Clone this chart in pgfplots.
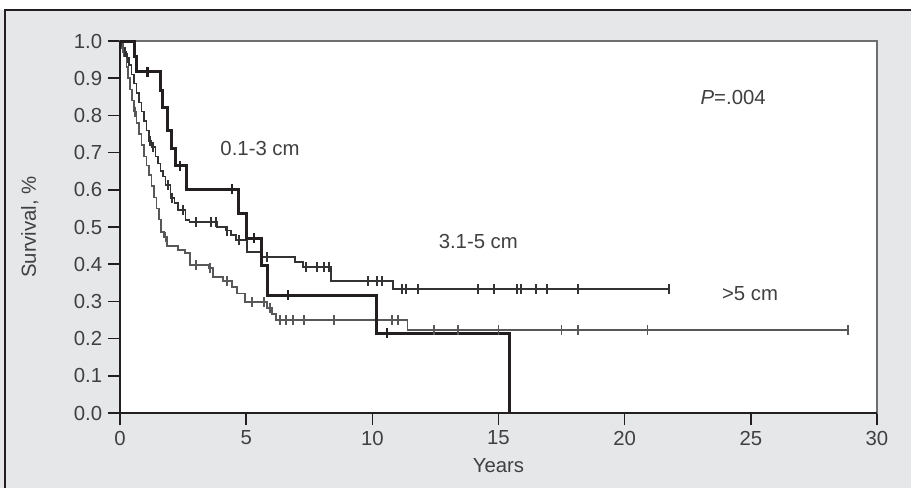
\documentclass[border=0pt]{standalone}
\usepackage{fontspec}
\setmainfont{Liberation Sans}
\usepackage{pgfplots}
\pgfplotsset{compat=1.18}
\definecolor{bg}{HTML}{E6E7E8}
\definecolor{ink}{HTML}{231F20}
\definecolor{txt}{HTML}{404042}
\definecolor{midc}{HTML}{333335}
\definecolor{grayc}{HTML}{58585A}
\definecolor{boxc}{HTML}{6D6E70}
\newcommand{\ff}{\fontsize{12.2pt}{14pt}\selectfont}
\begin{document}
\begin{tikzpicture}
\useasboundingbox (0,0) rectangle (546.6pt,292.8pt);
\fill[bg] (0,0) rectangle (546.6pt,286.8pt);
\draw[ink, line width=0.9pt] (3pt,0) -- (3pt,286.8pt) -- (546.6pt,286.8pt);
\begin{axis}[
  at={(72pt,45pt)}, anchor=south west,
  scale only axis, width=454.2pt, height=223.2pt,
  xmin=0, xmax=30, ymin=0, ymax=1,
  clip=false,
  axis background/.style={fill=white},
  axis line style={draw=boxc, line width=0.9pt},
  tick pos=left, tick align=outside, major tick length=7.2pt,
  every tick/.style={ink, line width=0.9pt},
  xtick={0,5,10,15,20,25,30},
  ytick={0,0.1,0.2,0.3,0.4,0.5,0.6,0.7,0.8,0.9,1.0},
  yticklabel style={/pgf/number format/.cd, fixed, fixed zerofill, precision=1},
  /pgf/number format/assume math mode=true,
  tick label style={font=\ff, text=txt},
  label style={font=\ff, text=txt},
  xlabel={Years}, ylabel={Survival, \%},
  xlabel style={at={(axis description cs:0.5,-0.142)}, anchor=center},
  ylabel style={at={(axis description cs:-0.119,0.5)}, anchor=center},
]
% >5 cm (gray)
\addplot[const plot, grayc, line width=0.85pt] coordinates {
(0,1)(0.08,0.98)(0.15,0.96)(0.25,0.93)(0.32,0.9)(0.4,0.87)(0.47,0.84)(0.55,0.81)(0.65,0.78)(0.75,0.75)(0.85,0.72)(0.95,0.69)(1.05,0.665)(1.15,0.64)(1.25,0.61)(1.35,0.58)(1.45,0.55)(1.55,0.52)(1.63,0.487)(1.75,0.473)(1.86,0.449)(2.3,0.438)(2.58,0.43)(2.77,0.398)(3.5,0.39)(3.69,0.366)(4.08,0.355)(4.44,0.339)(4.64,0.322)(4.95,0.298)(5.83,0.282)(6.02,0.266)(6.18,0.25)(11.4,0.223)(28.85,0.223)};
\addplot[only marks, mark=|, mark size=3pt, grayc, mark options={line width=0.85pt}] coordinates {
(0.12,0.98)(0.6,0.81)(1.8,0.473)(3.01,0.398)(3.57,0.39)(4.24,0.355)(5.23,0.298)(5.71,0.298)(5.95,0.282)(6.34,0.25)(6.58,0.25)(6.86,0.25)(7.29,0.25)(8.48,0.25)(10.78,0.25)(11.02,0.25)(12.45,0.223)(13.4,0.223)(15.0,0.223)(17.5,0.223)(18.15,0.223)(20.9,0.223)(28.85,0.223)};
% 3.1-5 cm
\addplot[const plot, midc, line width=0.85pt] coordinates {
(0,1)(0.08,0.985)(0.15,0.97)(0.25,0.955)(0.35,0.935)(0.45,0.91)(0.55,0.885)(0.65,0.86)(0.75,0.835)(0.85,0.81)(0.95,0.785)(1.05,0.76)(1.15,0.731)(1.25,0.715)(1.4,0.69)(1.5,0.67)(1.6,0.65)(1.7,0.635)(1.8,0.613)(2.0,0.578)(2.15,0.565)(2.3,0.546)(2.6,0.519)(2.75,0.513)(3.85,0.50)(4.2,0.49)(4.4,0.478)(4.6,0.465)(5.03,0.433)(5.6,0.419)(6.93,0.406)(7.25,0.392)(8.36,0.355)(10.82,0.333)(21.76,0.333)};
\addplot[only marks, mark=|, mark size=3pt, midc, mark options={line width=0.85pt}] coordinates {
(0.2,0.97)(0.3,0.955)(1.19,0.731)(1.31,0.715)(1.9,0.613)(2.06,0.578)(2.5,0.546)(3.01,0.513)(3.61,0.513)(3.8,0.513)(4.24,0.49)(4.72,0.465)(5.83,0.419)(7.37,0.392)(7.81,0.392)(8.09,0.392)(8.28,0.392)(9.83,0.355)(10.19,0.355)(10.38,0.355)(11.18,0.333)(11.34,0.333)(11.81,0.333)(14.19,0.333)(14.82,0.333)(15.74,0.333)(15.89,0.333)(16.49,0.333)(16.92,0.333)(18.15,0.333)(21.76,0.333)};
% 0.1-3 cm (thick)
\addplot[const plot, ink, line width=1.8pt] coordinates {
(0,1)(0.59,0.957)(0.67,0.917)(1.59,0.868)(1.70,0.82)(1.90,0.76)(2.06,0.71)(2.18,0.664)(2.62,0.602)(4.68,0.537)(5.03,0.47)(5.59,0.396)(5.83,0.317)(10.15,0.215)(15.42,0)};
\addplot[only marks, mark=|, mark size=3pt, ink, mark options={line width=0.9pt}] coordinates {
(1.07,0.917)(1.11,0.917)(2.38,0.664)(4.44,0.602)(5.31,0.47)(6.66,0.317)(10.58,0.215)};
\draw[ink, line width=0.9pt] (rel axis cs:0,1) -- (rel axis cs:0,0) -- (rel axis cs:1,0);
\node[font=\ff, text=txt] at (axis cs:5.55,0.712) {0.1-3 cm};
\node[font=\ff, text=txt] at (axis cs:14.2,0.46) {3.1-5 cm};
\node[font=\ff, text=txt] at (axis cs:24.97,0.32) {>5 cm};
\node[font=\ff, text=txt] at (axis cs:24.3,0.847) {\textit{P}=.004};
\end{axis}
\end{tikzpicture}
\end{document}
